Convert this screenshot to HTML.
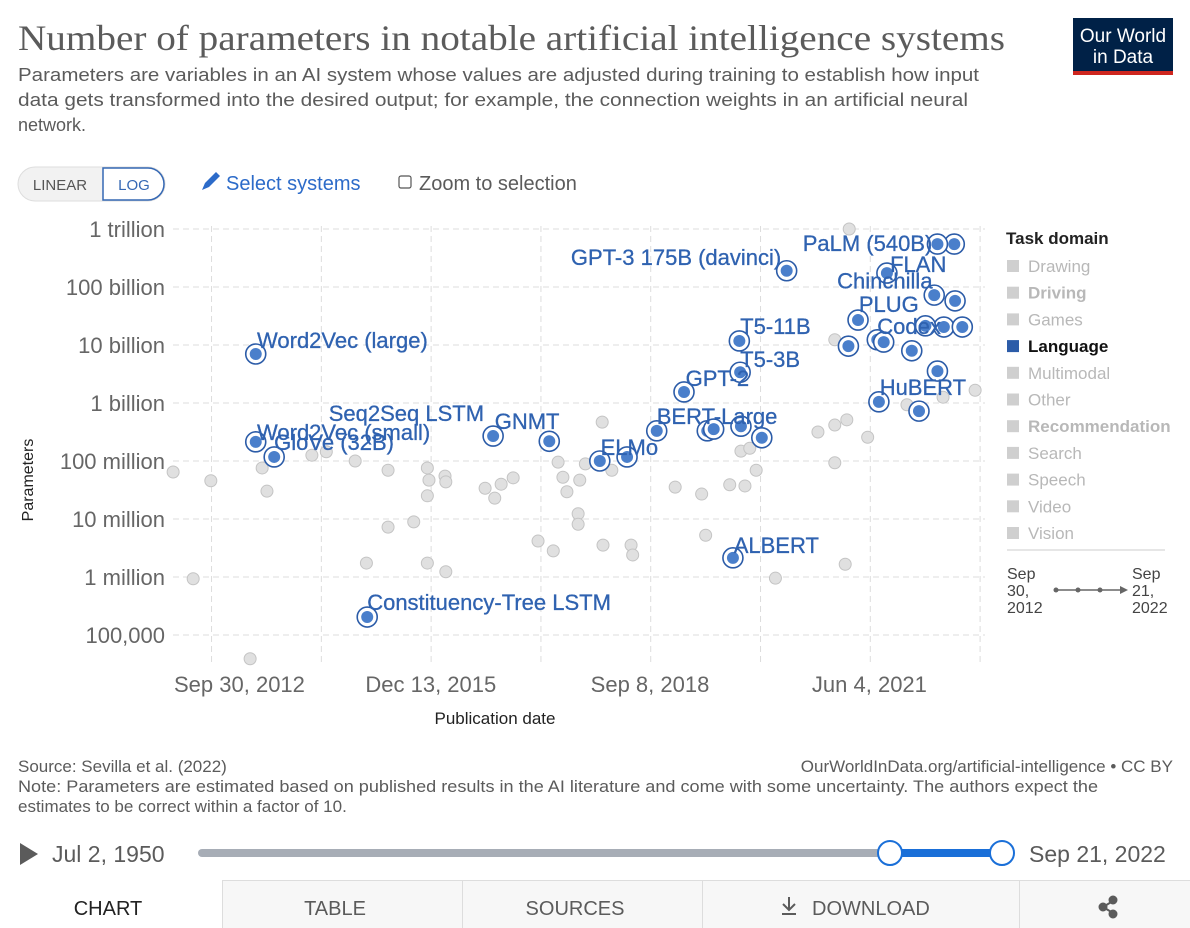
<!DOCTYPE html>
<html><head><meta charset="utf-8"><style>
html,body{margin:0;padding:0;background:#fff;width:1190px;height:928px;overflow:hidden}
svg{display:block;font-family:"Liberation Sans",sans-serif}
</style></head><body>
<svg id="chart" width="1190" height="928" viewBox="0 0 1190 928">
<text x="18" y="50" font-family="Liberation Serif,serif" font-size="36" fill="#5b5b5b" textLength="987" lengthAdjust="spacingAndGlyphs">Number of parameters in notable artificial intelligence systems</text>
<g font-size="18" fill="#5b5b5b">
<text x="18" y="81" textLength="961" lengthAdjust="spacingAndGlyphs">Parameters are variables in an AI system whose values are adjusted during training to establish how input</text>
<text x="18" y="106" textLength="950" lengthAdjust="spacingAndGlyphs">data gets transformed into the desired output; for example, the connection weights in an artificial neural</text>
<text x="18" y="131">network.</text>
</g>
<g>
<rect x="1073" y="18" width="100" height="57" fill="#002147"/>
<rect x="1073" y="71" width="100" height="4" fill="#ce261e"/>
<text x="1123" y="42" font-size="19" fill="#fff" text-anchor="middle">Our World</text>
<text x="1123" y="63" font-size="19" fill="#fff" text-anchor="middle">in Data</text>
</g>
<g>
<rect x="18" y="167" width="147" height="34" rx="17" fill="#f2f2f2" stroke="#ddd"/>
<path d="M103 168 H148 A16 16 0 0 1 148 200 H103 Z" fill="#fff" stroke="#3568b4" stroke-width="1.5"/>
<text x="60" y="190" font-size="15" fill="#555" text-anchor="middle">LINEAR</text>
<text x="134" y="190" font-size="15" fill="#3568b4" text-anchor="middle">LOG</text>
</g>
<g>
<path d="M202 190 l3 -7 l11 -11 l4 4 l-11 11 z" fill="#2c6bc9"/>
<text x="226" y="190" font-size="20" fill="#2c6bc9">Select systems</text>
</g>
<g>
<rect x="399" y="176" width="12" height="12" rx="2" fill="#fff" stroke="#555" stroke-width="1.2"/>
<text x="419" y="190" font-size="20" fill="#5b5b5b">Zoom to selection</text>
</g>
<g id="grid"></g>
<g id="axes"></g>
<g id="greys"></g>
<g id="hl"></g>
<g id="labels"></g>
<text x="495" y="724" font-size="17" fill="#222" text-anchor="middle">Publication date</text>
<text transform="translate(33,480) rotate(-90)" font-size="16" fill="#222" text-anchor="middle">Parameters</text>
<g id="legend">
<text x="1006" y="244" font-size="17" font-weight="bold" fill="#222">Task domain</text>
</g>
<line x1="1007" y1="550" x2="1165" y2="550" stroke="#ccc"/>
<g font-size="16" fill="#444">
<text x="1007" y="579">Sep</text><text x="1007" y="596">30,</text><text x="1007" y="613">2012</text>
<text x="1132" y="579">Sep</text><text x="1132" y="596">21,</text><text x="1132" y="613">2022</text>
<line x1="1056" y1="590" x2="1123" y2="590" stroke="#666" stroke-width="1.5"/>
<circle cx="1056" cy="590" r="2.5" fill="#666"/><circle cx="1078" cy="590" r="2.5" fill="#666"/><circle cx="1100" cy="590" r="2.5" fill="#666"/>
<path d="M1120 586 L1128 590 L1120 594 Z" fill="#666"/>
</g>
<g font-size="17" fill="#5b5b5b">
<text x="18" y="772">Source: Sevilla et al. (2022)</text>
<text x="1173" y="772" text-anchor="end">OurWorldInData.org/artificial-intelligence • CC BY</text>
<text x="18" y="792" textLength="1080" lengthAdjust="spacingAndGlyphs">Note: Parameters are estimated based on published results in the AI literature and come with some uncertainty. The authors expect the</text>
<text x="18" y="812">estimates to be correct within a factor of 10.</text>
</g>
<path d="M20 843 L38 854 L20 865 Z" fill="#5b5b5b"/>
<text x="52" y="862" font-size="23" fill="#5b5b5b">Jul 2, 1950</text>
<rect x="198" y="849" width="805" height="8" rx="4" fill="#a7adb6"/>
<rect x="890" y="849" width="113" height="8" fill="#1a6fd8"/>
<circle cx="890" cy="853" r="12" fill="#fff" stroke="#1a6fd8" stroke-width="2"/>
<circle cx="1002" cy="853" r="12" fill="#fff" stroke="#1a6fd8" stroke-width="2"/>
<text x="1029" y="862" font-size="23" fill="#5b5b5b">Sep 21, 2022</text>
<g font-size="20">
<rect x="222" y="880" width="968" height="48" fill="#f7f7f7"/>
<line x1="222" y1="880.5" x2="1190" y2="880.5" stroke="#ddd"/>
<line x1="222.5" y1="880" x2="222.5" y2="928" stroke="#ddd"/>
<line x1="462.5" y1="880" x2="462.5" y2="928" stroke="#ddd"/>
<line x1="702.5" y1="880" x2="702.5" y2="928" stroke="#ddd"/>
<line x1="1019.5" y1="880" x2="1019.5" y2="928" stroke="#ddd"/>
<text x="108" y="915" fill="#222" text-anchor="middle">CHART</text>
<text x="335" y="915" fill="#5b5b5b" text-anchor="middle">TABLE</text>
<text x="575" y="915" fill="#5b5b5b" text-anchor="middle">SOURCES</text>
<g>
<path d="M789 897 v12 M783 904 l6 6 l6 -6 M782 914 h14" stroke="#5b5b5b" stroke-width="2" fill="none"/>
<text x="812" y="915" fill="#5b5b5b">DOWNLOAD</text></g>
<g fill="#5b5b5b" stroke="#5b5b5b" stroke-width="2">
<line x1="1103" y1="907" x2="1113" y2="901"/><line x1="1103" y1="907" x2="1113" y2="913"/>
<circle cx="1103" cy="907" r="3.5"/><circle cx="1113" cy="900" r="3.5"/><circle cx="1113" cy="914" r="3.5"/></g>
</g>
</svg>
<script>
// y: log10(parameters); x: publication date as decimal year
const yTickExps = [12, 11, 10, 9, 8, 7, 6, 5];
const yTickLabels = ["1 trillion","100 billion","10 billion","1 billion","100 million","10 million","1 million","100,000"];
const xTickYears = [2012.747, 2015.953, 2018.686, 2021.422];
const xTickLabels = ["Sep 30, 2012","Dec 13, 2015","Sep 8, 2018","Jun 4, 2021"];
const otherYears = [2012.74,2013.21,2012.99,2013.70,2013.85,2013.91,2014.47,2014.65,2015.01,2015.15,2015.42,2015.42,2015.74,2015.91,2015.91,2015.91,2015.93,2016.13,2016.14,2016.14,2016.63,2016.75,2016.83,2016.98,2017.29,2017.48,2017.54,2017.60,2017.65,2017.79,2017.79,2017.81,2017.88,2018.09,2018.10,2018.45,2018.47,2018.21,2019.00,2019.33,2019.38,2019.68,2019.87,2019.82,2019.93,2020.01,2020.25,2020.78,2020.99,2020.99,2020.99,2021.12,2021.14,2021.17,2021.40,2021.89,2022.34,2022.74];
const otherExps = [7.81,7.66,5.97,4.59,7.88,7.48,8.10,8.16,8.0,6.24,6.86,7.84,6.95,7.88,7.40,6.24,7.67,7.74,6.09,7.64,7.53,7.36,7.60,7.71,6.62,6.45,7.98,7.72,7.47,7.09,6.91,7.67,7.95,8.67,6.55,6.55,6.38,7.84,7.55,7.43,6.72,7.59,7.57,8.17,8.22,7.84,5.98,8.5,8.62,7.97,10.09,6.22,8.71,12.0,8.41,8.97,9.10,9.22];
const langYears = [2013.77,2013.77,2014.00,2015.16,2016.73,2017.43,2018.06,2018.40,2018.77,2019.40,2019.48,2019.82,2020.08,2019.11,2019.81,2019.80,2020.39,2019.72,2021.16,2021.28,2021.52,2021.60,2021.95,2021.54,2022.04,2022.27,2022.23,2022.49,2022.35,2022.58,2022.12,2022.48,2022.27,2021.64];
const langExps = [9.845,8.33,8.07,5.31,8.43,8.34,8.0,8.07,8.52,8.52,8.55,8.60,8.40,9.19,9.53,10.07,11.28,6.33,9.98,10.43,10.09,10.05,9.90,9.02,8.86,9.55,10.86,10.76,10.31,10.31,10.33,11.74,11.74,11.24];
const labelTexts = ["Word2Vec (small)","Seq2Seq LSTM","GloVe (32B)","Word2Vec (large)","GNMT","ELMo","BERT-Large","GPT-2","T5-3B","T5-11B","GPT-3 175B (davinci)","ALBERT","Constituency-Tree LSTM","PaLM (540B)","FLAN","Chinchilla","PLUG","Codex","HuBERT"];
const labelYears = [2013.786,2014.68,2014.00,2013.786,2016.75,2018.07,2018.77,2019.13,2019.81,2019.81,2017.70,2019.73,2015.16,2020.59,2021.68,2021.02,2021.29,2021.52,2021.55];
const labelExps = [8.36,8.69,8.19,9.95,8.55,8.10,8.64,9.29,9.62,10.19,11.38,6.41,5.43,11.62,11.26,10.97,10.57,10.19,9.14];
const legendItems = ["Drawing","Driving","Games","Language","Multimodal","Other","Recommendation","Search","Speech","Video","Vision"];

const NS = "http://www.w3.org/2000/svg";
const X0 = 650, YR0 = 2018.686, PXY = 80.2;
const xS = yr => X0 + (yr - YR0) * PXY;
const yS = e => 229 + (12 - e) * 58;
function mk(tag, attrs, parent) {
  const el = document.createElementNS(NS, tag);
  for (const k in attrs) el.setAttribute(k, attrs[k]);
  parent.appendChild(el);
  return el;
}
const grid = document.getElementById("grid");
const axes = document.getElementById("axes");
yTickExps.forEach((e, i) => {
  const ln = mk("line", {x1: 173, x2: 985, y1: yS(e), y2: yS(e), stroke: "#ddd", "stroke-dasharray": "6,4"}, grid);
  
  
  const t = mk("text", {x: 165, y: yS(e) + 8, "font-size": 22, fill: "#666", "text-anchor": "end"}, axes);
  t.textContent = yTickLabels[i];
  
  
});
for (let k = 0; k < 8; k++) {
  const yr = 2013.219 + k * 1.369;
  const ln = mk("line", {x1: xS(yr), x2: xS(yr), y1: 226, y2: 662, stroke: "#ddd", "stroke-dasharray": "6,4"}, grid);
  
  
}
xTickYears.forEach((yr, i) => {
  const first = i === 0;
  const t = mk("text", {x: first ? 174 : xS(yr), y: 692, "font-size": 22, fill: "#666", "text-anchor": first ? "start" : "middle"}, axes);
  t.textContent = xTickLabels[i];
  
  
});
const greys = document.getElementById("greys");
otherYears.forEach((yr, i) => {
  const c = mk("circle", {cx: xS(yr), cy: yS(otherExps[i]), r: 6, fill: "#e0e0e0", stroke: "#c4c4c4", "stroke-width": 1}, greys);
  
  
});
const hl = document.getElementById("hl");
langYears.forEach((yr, i) => {
  const g = mk("g", {}, hl);
  
  
  mk("circle", {cx: xS(yr), cy: yS(langExps[i]), r: 10, fill: "#fff", stroke: "#2c5ca8", "stroke-width": 1.6}, g);
  mk("circle", {cx: xS(yr), cy: yS(langExps[i]), r: 6, fill: "#4a7fcb"}, g);
});
const labels = document.getElementById("labels");
labelTexts.forEach((s, i) => {
  const t = mk("text", {x: xS(labelYears[i]), y: yS(labelExps[i]), "font-size": 22, fill: "#2f62b0", stroke: "#2f62b0", "stroke-width": 0.3}, labels);
  t.textContent = s;
  
  
});
const legend = document.getElementById("legend");
legendItems.forEach((s, i) => {
  const y = 266 + i * 26.7;
  const on = s === "Language";
  const bold = s === "Driving" || s === "Recommendation" || on;
  const g = mk("g", {}, legend);
  
  
  mk("rect", {x: 1007, y: y - 6, width: 12, height: 12, fill: on ? "#2c5ca8" : "#cfcfcf"}, g);
  const t = mk("text", {x: 1028, y: y + 6, "font-size": 17, fill: on ? "#111" : "#b8b8b8", "font-weight": bold ? "bold" : "normal"}, g);
  t.textContent = s;
});
</script>
</body></html>
